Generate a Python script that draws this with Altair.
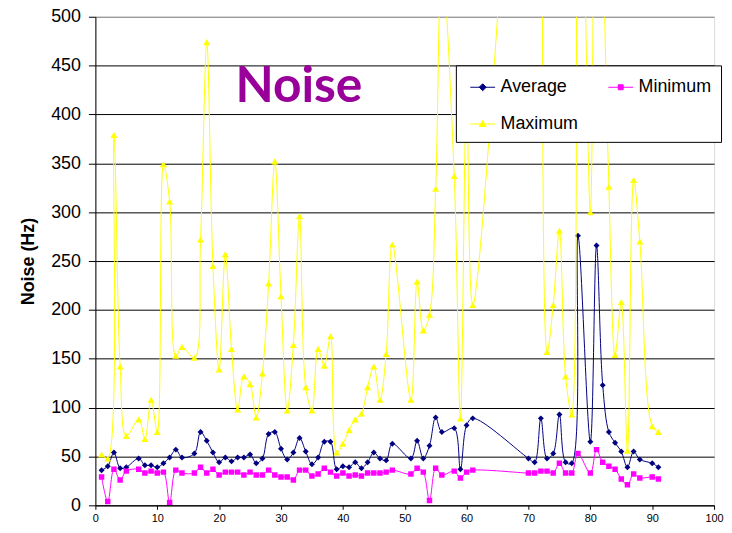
import altair as alt
import pandas as pd

# ---- data ----
xs = [1, 2, 3, 4, 5,
      7, 8, 9, 10, 11, 12, 13, 14,
      16, 17, 18, 19, 20, 21, 22, 23, 24, 25, 26, 27, 28, 29, 30, 31, 32,
      33, 34, 35, 36, 37, 38, 39, 40, 41, 42, 43, 44, 45, 46, 47, 48,
      51, 52, 53, 54, 55, 56,
      58, 59, 60, 61,
      70, 71, 72, 73, 74, 75, 76, 77, 78,
      80, 81, 82, 83, 84, 85, 86, 87, 88,
      90, 91]

average = [36, 40, 54, 38, 39,
           48, 41, 41, 39, 43, 49, 57, 49,
           53, 75, 66, 54, 44, 49, 45, 49, 49, 52, 43, 48, 73, 75, 58, 47, 54,
           69, 55, 42, 49, 65, 65, 37, 40, 39, 44, 38, 44, 54, 48, 46, 63,
           48, 66, 48, 61, 90, 75,
           79, 37, 82, 89,
           48, 44, 89, 48, 53, 93, 44, 43, 276,
           65, 266, 123, 75, 64, 55, 39, 55, 47,
           43, 39]

minimum = [29, 4, 37, 26, 35,
           37, 33, 35, 33, 34, 3, 36, 33,
           33, 39, 33, 37, 31, 34, 34, 34, 31, 34, 31, 31, 36, 31, 29, 29, 26,
           36, 36, 30, 32, 38, 34, 30, 33, 30, 31, 30, 33, 33, 33, 34, 36,
           32, 38, 34, 5, 38, 31,
           35, 28, 34, 36,
           33, 33, 35, 35, 33, 43, 33, 33, 53,
           33, 57, 44, 40, 37, 27, 21, 32, 28,
           29, 27]

maximum = [52, 48, 379, 142, 71,
           88, 68, 108, 75, 349, 311, 153, 162,
           151, 272, 474, 245, 139, 257, 160, 98, 132, 124, 90, 135, 227, 352, 214, 97, 164,
           296, 121, 97, 160, 143, 173, 54, 63, 77, 88, 94, 121, 142, 108, 155, 267,
           108, 229, 179, 195, 324, 560,
           337, 89, 420, 205,
           950, 1000, 1200, 157, 205, 281, 132, 93, 900,
           300, 1000, 600, 326, 154, 208, 56, 333, 270,
           81, 75]

series_names = ["Average", "Minimum", "Maximum"]
series_colors = ["#000080", "#FF00FF", "#FFFF00"]
series_shapes = ["diamond", "square", "triangle-up"]
series_sizes = [36, 30, 50]
x_ticks = list(range(0, 101, 10))
y_ticks = list(range(0, 501, 50))

rows = []
for name, vals in zip(series_names, [average, minimum, maximum]):
    for x, v in zip(xs, vals):
        rows.append({"x": x, "value": v, "series": name})
df = pd.DataFrame(rows)

FONT = "Liberation Sans"

shape_expr = (
    "datum.value === 'Average' ? 'M-1,0H1M0,-0.28L0.28,0L0,0.28L-0.28,0Z' : "
    "datum.value === 'Minimum' ? 'M-1,0H1M-0.2,-0.2H0.2V0.2H-0.2Z' : "
    "'M-1,0H1M0,-0.28L0.28,0.2L-0.28,0.2Z'"
)
color_expr = "scale('color', datum.value)"

legend = alt.Legend(
    title=None, orient="none", legendX=363, legendY=49, columns=2,
    direction="horizontal",
    symbolSize=625, symbolStrokeWidth=1, symbolOpacity=1, symbolOffset=5,
    symbolType=alt.ExprRef(expr=shape_expr),
    symbolFillColor=alt.ExprRef(expr=color_expr),
    symbolStrokeColor=alt.ExprRef(expr=color_expr),
    labelFontSize=18, labelFont=FONT, labelColor="black", labelOffset=5,
    fillColor="white", strokeColor="black", padding=9,
    rowPadding=15, columnPadding=24,
)

color_enc = alt.Color("series:N",
                      scale=alt.Scale(domain=series_names, range=series_colors),
                      legend=legend)

x_enc = alt.X("x:Q", scale=alt.Scale(domain=[0, 100], nice=False),
              axis=alt.Axis(values=x_ticks, grid=False, title=None, tickSize=4,
                            labelFontSize=11, labelFont=FONT, labelPadding=3,
                            labelFlush=False,
                            labelColor="black", domainColor="black", tickColor="black"))
y_enc = alt.Y("value:Q", scale=alt.Scale(domain=[0, 500], nice=False),
              axis=alt.Axis(values=y_ticks, grid=True,
                            gridColor={"condition": {"test": "datum.value === 500", "value": "#808080"},
                                       "value": "black"},
                            gridWidth=1, title="Noise (Hz)", titleFont=FONT,
                            titleFontSize=18, titleFontWeight="bold", titleColor="black",
                            titlePadding=13, tickSize=7, labelFontSize=18, labelFont=FONT,
                            labelPadding=8, labelFlush=False,
                            labelColor="black", domainColor="black",
                            tickColor="black"))

layers = []
for name, col, shp, sz in zip(series_names, series_colors, series_shapes, series_sizes):
    base = alt.Chart(df).transform_filter(alt.datum.series == name)
    line = base.mark_line(interpolate="catmull-rom", strokeWidth=1, clip=True).encode(
        x=x_enc, y=y_enc, color=color_enc)
    pts = base.mark_point(filled=True, shape=shp, size=sz, color=col, opacity=1,
                          clip=True).encode(x=x_enc, y=y_enc)
    layers += [line, pts]

chart = alt.layer(*layers).properties(
    width=623, height=492,
    autosize=alt.AutoSizeParams(type="none"),
    padding={"left": 88, "top": 7, "right": 10, "bottom": 18},
    title=alt.TitleParams("Noise", anchor="start", frame="group", orient="top",
                          offset=0, dx=141, dy=145, baseline="alphabetic",
                          font="Comic Sans MS, Lato", fontSize=50, fontWeight="bold",
                          color="#990099"),
).configure_view(fill="#C0C0C0", stroke="#808080", strokeWidth=1
).configure(background="white")

chart.save("out.html", embed_options={"renderer": "svg", "actions": False})
